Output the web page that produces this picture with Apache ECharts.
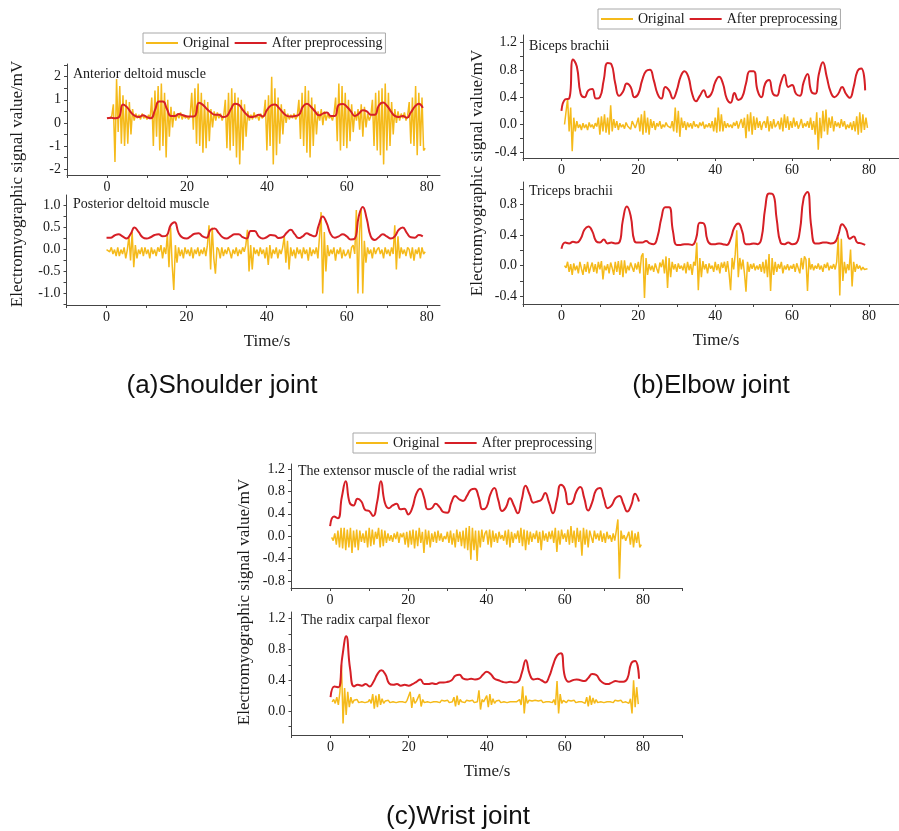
<!DOCTYPE html>
<html>
<head>
<meta charset="utf-8">
<script src="https://cdn.jsdelivr.net/npm/echarts@6.0.0/dist/echarts.min.js"></script>
<style>
  html, body { margin: 0; padding: 0; background: #fff; }
  #chart { width: 899px; height: 831px; }
</style>
</head>
<body>
<div id="chart"></div>
<script>
const RAW_STEP = 0.4
const FILT_STEP = 1

const seriesNames = ['Original', 'After preprocessing']
const muscleNames = ['Anterior deltoid muscle', 'Posterior deltoid muscle', 'Biceps brachii',
  'Triceps brachii', 'The extensor muscle of the radial wrist', 'The radix carpal flexor']
const jointNames = ['(a)Shoulder joint', '(b)Elbow joint', '(c)Wrist joint']
const xTickLabels = [0, 20, 40, 60, 80]

// ---- shoulder: anterior deltoid
const anteriorRaw = [
  0.2, 0.25, 0.2, 0.3, 0.8, -1.7, 1.9, -0.4, 1.6, -0.9,
  1.2, -1.0, 1.0, -0.9, 0.9, -0.5, 0.6, 0.1, 0.4, 0.2,
  0.35, 0.15, 0.4, 0.2, 0.3, 0.15, 0.35, 0.2, 1.1, -1.0,
  1.4, -0.6, 1.6, -1.2, 1.7, -1.0, 1.3, -1.5, 1.0, -0.6,
  0.7, -0.2, 0.5, 0.1, 0.4, 0.2, 0.45, 0.15, 0.35, 0.2,
  0.3, 0.15, 0.3, 1.3, -0.3, 1.5, -0.9, 1.7, -1.0, 1.3,
  -1.3, 1.0, -1.1, 0.9, -0.8, 0.6, -0.2, 0.5, 0.1, 0.45,
  0.2, 0.4, 0.1, 0.3, 1.0, -1.1, 1.3, -1.2, 1.5, -1.0,
  1.3, -1.5, 1.1, -1.8, 1.0, -1.2, 0.8, -0.6, 0.5, 0.1,
  0.35, 0.15, 0.45, 0.2, 0.35, 0.1, 0.4, 0.2, 0.3, 1.0,
  -1.2, 1.2, -1.0, 2.0, -1.8, 1.5, -1.4, 1.1, -0.9, 0.8,
  -0.5, 0.6, 0.0, 0.4, 0.15, 0.35, 0.2, 0.4, 0.15, 0.3,
  1.0, -0.7, 1.3, -1.0, 1.6, -1.3, 1.4, -1.5, 1.1, -1.0,
  0.8, -0.5, 0.5, 0.1, 0.6, -0.1, 0.5, 0.1, 0.4, 0.2,
  0.3, 0.1, 0.4, 1.1, -0.8, 1.7, -1.2, 1.6, -1.0, 1.3,
  -1.1, 1.0, -0.8, 0.8, -0.4, 0.5, 0.1, 0.6, -0.3, 0.8,
  -0.6, 0.7, -0.2, 0.4, 0.1, 0.3, 1.0, -1.0, 1.3, -1.2,
  1.4, -1.4, 1.5, -1.8, 1.7, -1.2, 1.3, -1.0, 0.9, -0.5,
  0.6, 0.0, 0.5, 0.1, 0.4, 0.2, 0.45, 0.1, 0.3, 0.9,
  -0.9, 1.1, -1.0, 1.6, -1.4, 1.3, -1.0, 1.1, -1.2, -1.1
]
const anteriorFilt = [
  0.2, 0.22, 0.2, 0.25, 0.8, 0.68, 0.45, 0.3, 0.25, 0.33,
  0.25, 0.2, 0.55, 0.92, 0.92, 0.6, 0.3, 0.3, 0.38, 0.33,
  0.28, 0.27, 0.3, 0.87, 0.78, 0.6, 0.45, 0.35, 0.35, 0.25,
  0.3, 0.6, 0.83, 0.78, 0.55, 0.35, 0.25, 0.28, 0.35, 0.28,
  0.55, 0.75, 0.8, 0.65, 0.45, 0.3, 0.27, 0.3, 0.35, 0.7,
  0.83, 0.7, 0.5, 0.33, 0.4, 0.45, 0.3, 0.3, 0.78, 0.82,
  0.7, 0.5, 0.3, 0.4, 0.55, 0.5, 0.35, 0.35, 0.75, 0.88,
  0.75, 0.5, 0.3, 0.25, 0.3, 0.22, 0.45, 0.7, 0.83, 0.65
]

// ---- shoulder: posterior deltoid
const posteriorRaw = [
  0.0, 0.02, -0.05, 0.05, -0.1, 0.0, -0.15, 0.05, -0.15, 0.0,
  -0.1, 0.05, -0.2, 0.0, 0.3, -0.25, 0.4, -0.4, 0.1, -0.2,
  0.0, -0.1, 0.05, -0.15, 0.05, -0.1, 0.0, -0.2, 0.05, -0.1,
  0.0, -0.15, 0.05, -0.05, 0.1, -0.2, 0.05, -0.1, 0.35, -0.4,
  0.5, -0.35, -0.92, 0.1, -0.3, 0.05, -0.15, 0.0, -0.2, 0.05,
  -0.1, 0.0, -0.15, 0.05, -0.2, 0.0, -0.1, 0.05, -0.15, 0.0,
  -0.1, 0.05, -0.15, 0.1, 0.55, -0.45, 0.5, -0.2, -0.55, 0.05,
  0.0, -0.2, 0.05, -0.15, 0.0, -0.1, 0.05, -0.05, -0.2, 0.0,
  -0.1, 0.05, -0.15, 0.0, -0.1, 0.05, -0.05, 0.1, 0.45, -0.5,
  0.1, -0.45, 0.05, -0.1, 0.0, -0.15, 0.05, -0.1, 0.0, -0.2,
  0.05, -0.35, 0.1, -0.2, 0.0, -0.1, 0.05, -0.2, 0.0, -0.1,
  0.05, 0.3, -0.3, 0.2, -0.45, 0.05, -0.15, 0.0, -0.2, 0.05,
  -0.1, 0.0, -0.2, 0.05, -0.1, 0.0, -0.25, 0.05, -0.15, 0.0,
  -0.1, 0.05, -0.2, 0.3, 0.85, -1.0, 0.4, -0.5, 0.1, -0.15,
  0.0, -0.1, 0.05, -0.25, 0.0, -0.1, 0.05, -0.2, 0.0, -0.15,
  -0.1, 0.0, -0.2, 0.05, 0.1, -0.1, 0.9, -1.0, 0.4, 0.92,
  -1.0, 0.2, -0.3, 0.05, -0.1, 0.0, -0.2, 0.05, -0.1, 0.0,
  0.05, -0.1, 0.0, -0.2, 0.05, -0.1, 0.0, -0.15, 0.05, -0.1,
  0.55, -0.45, 0.3, -0.2, 0.05, -0.1, 0.0, -0.15, 0.05, 0.0,
  -0.2, 0.05, -0.25, 0.0, -0.1, 0.05, -0.2, 0.05, -0.1, -0.05
]
const posteriorFilt = [
  0.27, 0.27, 0.32, 0.35, 0.3, 0.25, 0.35, 0.5, 0.4, 0.28,
  0.25, 0.28, 0.33, 0.35, 0.3, 0.32, 0.55, 0.62, 0.38, 0.27,
  0.25, 0.3, 0.36, 0.37, 0.3, 0.27, 0.45, 0.48, 0.38, 0.28,
  0.25, 0.3, 0.35, 0.35, 0.28, 0.25, 0.42, 0.42, 0.3, 0.25,
  0.28, 0.33, 0.32, 0.26, 0.28, 0.38, 0.45, 0.35, 0.26, 0.3,
  0.37, 0.33, 0.3, 0.55, 0.75, 0.6, 0.35, 0.27, 0.3, 0.35,
  0.3, 0.23, 0.25, 0.75, 0.97, 0.7, 0.3, 0.22, 0.28, 0.35,
  0.3, 0.25, 0.3, 0.45, 0.5, 0.38, 0.28, 0.27, 0.33, 0.3
]

// ---- elbow: biceps brachii
const bicepsRaw = [
  null, null, 0.0, 0.02, 0.38, -0.1, 0.25, -0.39, 0.1, -0.1,
  0.05, -0.05, 0.0, -0.08, 0.02, -0.05, 0.0, -0.08, 0.03, -0.04,
  0.0, -0.06, 0.02, -0.03, 0.1, -0.15, 0.12, -0.1, 0.15, -0.12,
  0.1, -0.15, 0.28, -0.1, 0.08, -0.05, 0.05, -0.08, 0.02, -0.04,
  0.0, -0.06, 0.03, -0.02, 0.0, -0.07, 0.05, 0.0, -0.05, 0.02,
  0.1, -0.1, 0.15, -0.15, 0.2, -0.12, 0.1, -0.15, 0.08, -0.05,
  0.05, -0.08, 0.02, -0.03, 0.05, -0.06, 0.0, -0.04, 0.03, -0.02,
  0.0, -0.05, 0.05, -0.1, 0.25, -0.12, 0.2, -0.18, 0.1, -0.05,
  0.05, -0.08, 0.03, -0.04, 0.02, -0.06, 0.05, -0.03, 0.0, -0.05,
  0.03, -0.02, 0.04, -0.06, 0.0, -0.04, 0.02, -0.05, 0.05, -0.1,
  0.1, -0.12, 0.25, -0.1, 0.15, -0.1, 0.05, -0.05, 0.02, -0.04,
  0.0, -0.05, 0.03, -0.02, 0.05, -0.06, 0.02, 0.08, -0.05, 0.1,
  -0.2, 0.15, -0.1, 0.18, -0.15, 0.12, -0.08, 0.1, -0.05, 0.05,
  -0.08, 0.02, 0.05, -0.05, 0.12, -0.1, 0.05, -0.06, 0.08, -0.04,
  0.0, 0.05, -0.07, 0.1, -0.1, 0.15, -0.05, 0.12, -0.08, 0.05,
  -0.05, 0.1, -0.03, 0.05, -0.06, 0.0, 0.08, -0.05, 0.02, -0.03,
  0.05, -0.05, 0.1, -0.08, 0.05, -0.15, 0.18, -0.37, 0.1, -0.2,
  0.2, -0.1, 0.22, -0.15, 0.1, -0.05, 0.12, -0.1, 0.05, -0.03,
  0.03, -0.05, 0.08, -0.03, 0.05, -0.07, 0.0, -0.05, 0.03, -0.08,
  0.05, -0.1, 0.12, -0.15, 0.18, -0.12, 0.15, -0.08, 0.1, -0.05
]
const bicepsFilt = [
  0.2, 0.37, 0.38, 0.95, 0.85, 0.45, 0.4, 0.5, 0.52, 0.38,
  0.4, 0.65, 0.9, 0.88, 0.6, 0.42, 0.48, 0.6, 0.55, 0.4,
  0.45, 0.65, 0.78, 0.8, 0.65, 0.45, 0.38, 0.55, 0.5, 0.38,
  0.5, 0.7, 0.78, 0.7, 0.45, 0.34, 0.42, 0.5, 0.4, 0.45,
  0.62, 0.7, 0.6, 0.38, 0.32, 0.46, 0.36, 0.4, 0.6, 0.78,
  0.78, 0.5, 0.4, 0.6, 0.65, 0.45, 0.42, 0.6, 0.73, 0.55,
  0.58, 0.45, 0.42, 0.62, 0.74, 0.48, 0.45, 0.75, 0.91, 0.7,
  0.48, 0.4, 0.45, 0.55, 0.45, 0.39, 0.55, 0.78, 0.82, 0.5
]

// ---- elbow: triceps brachii
const tricepsRaw = [
  null, null, 0.0, -0.03, 0.05, -0.08, 0.02, -0.12, 0.03, -0.06,
  0.0, -0.1, 0.05, -0.04, -0.12, 0.02, -0.08, 0.05, -0.1, -0.02,
  0.04, -0.08, 0.02, -0.1, 0.05, -0.05, 0.06, -0.18, 0.0, -0.06,
  0.02, -0.1, 0.04, -0.03, -0.12, 0.05, -0.08, 0.06, -0.12, 0.07,
  -0.15, 0.07, -0.1, 0.0, -0.06, 0.04, -0.02, -0.08, 0.03, -0.05,
  0.05, -0.1, 0.12, 0.16, -0.42, 0.1, -0.12, 0.02, -0.06, 0.0,
  -0.08, 0.03, -0.04, -0.1, 0.04, -0.02, 0.08, -0.1, 0.12, -0.29,
  0.1, -0.15, 0.05, -0.05, 0.02, -0.08, 0.03, -0.04, 0.0, -0.06,
  0.03, -0.1, 0.05, -0.06, 0.02, -0.12, 0.05, 0.0, 0.3, -0.32,
  0.1, -0.15, 0.06, -0.05, 0.02, -0.1, 0.03, -0.04, 0.0, -0.08,
  0.05, -0.06, 0.02, -0.1, 0.04, -0.03, 0.05, -0.08, 0.06, -0.1,
  -0.32, 0.1, -0.05, 0.15, 0.46, -0.15, 0.1, -0.05, 0.08, -0.1,
  -0.34, 0.05, -0.08, 0.02, -0.04, 0.03, -0.06, 0.0, -0.05, 0.02,
  -0.08, 0.05, -0.1, 0.08, -0.15, 0.15, -0.33, 0.1, -0.12, 0.05,
  -0.08, 0.02, -0.04, 0.05, -0.1, 0.0, -0.05, 0.02, -0.06, 0.0,
  -0.04, 0.02, -0.08, 0.03, 0.05, -0.1, 0.1, -0.05, 0.12, 0.08,
  -0.33, 0.1, -0.05, 0.02, -0.06, 0.0, -0.04, 0.03, -0.05, 0.0,
  -0.08, 0.02, -0.03, 0.04, -0.06, 0.0, -0.04, 0.02, -0.05, 0.05,
  0.37, -0.39, 0.35, -0.2, 0.05, -0.1, 0.02, -0.06, 0.21, -0.27,
  0.05, -0.08, 0.02, -0.04, 0.0, -0.06, -0.02, -0.05, -0.03, -0.04
]
const tricepsFilt = [
  0.22, 0.3, 0.29, 0.31, 0.3, 0.35, 0.47, 0.51, 0.45, 0.32,
  0.3, 0.34, 0.29, 0.3, 0.29, 0.3, 0.6, 0.77, 0.65, 0.32,
  0.3, 0.3, 0.32, 0.29, 0.28, 0.38, 0.62, 0.76, 0.76, 0.45,
  0.27, 0.27, 0.28, 0.28, 0.27, 0.35, 0.56, 0.55, 0.33, 0.28,
  0.28, 0.29, 0.28, 0.27, 0.35, 0.5, 0.55, 0.45, 0.28, 0.28,
  0.29, 0.28, 0.35, 0.75, 0.94, 0.93, 0.6, 0.3, 0.28, 0.3,
  0.28, 0.29, 0.45, 0.88, 0.96, 0.5, 0.29, 0.29, 0.3, 0.3,
  0.29, 0.3, 0.4, 0.54, 0.48, 0.35, 0.38, 0.3, 0.29, 0.27
]

// ---- wrist: extensor carpi radialis
const extensorRaw = [
  null, -0.02, -0.08, 0.05, -0.15, 0.1, -0.2, 0.15, -0.22, 0.15,
  -0.25, 0.12, -0.2, 0.15, -0.3, 0.1, -0.2, 0.12, -0.25, 0.1,
  -0.1, 0.05, -0.12, 0.1, -0.2, 0.15, -0.18, 0.12, -0.15, 0.08,
  -0.05, 0.15, -0.2, 0.12, -0.18, 0.1, -0.12, 0.05, -0.08, 0.02,
  -0.1, 0.05, -0.05, 0.08, -0.12, 0.05, -0.02, 0.06, -0.15, 0.08,
  -0.2, 0.1, -0.15, 0.12, -0.22, 0.1, -0.18, 0.15, -0.12, 0.08,
  -0.3, 0.12, -0.15, 0.1, -0.2, 0.05, -0.1, 0.08, -0.12, 0.1,
  -0.08, 0.05, -0.1, 0.0, -0.05, 0.08, -0.12, 0.1, -0.15, 0.05,
  -0.2, 0.12, -0.1, 0.08, -0.18, 0.1, -0.22, 0.15, -0.25, 0.18,
  -0.42, 0.15, -0.25, 0.1, -0.44, 0.1, -0.2, 0.12, -0.1, 0.05,
  0.1, -0.15, 0.12, -0.2, 0.1, -0.1, 0.05, -0.12, 0.08, -0.05,
  0.02, -0.08, 0.1, -0.15, 0.12, -0.2, 0.08, -0.12, 0.05, -0.05,
  0.1, -0.12, 0.15, -0.18, 0.12, -0.25, 0.1, -0.15, 0.08, -0.1,
  0.05, -0.05, 0.1, -0.12, 0.08, -0.25, 0.1, -0.08, 0.05, -0.1,
  0.08, -0.05, 0.1, -0.12, 0.15, -0.28, 0.1, -0.15, 0.12, -0.05,
  0.05, -0.1, 0.12, -0.15, 0.18, -0.12, 0.1, -0.2, 0.15, -0.1,
  0.1, -0.35, 0.15, -0.15, 0.12, -0.2, 0.1, 0.08, -0.12, 0.1,
  -0.05, 0.05, -0.08, 0.1, -0.1, 0.05, -0.12, 0.08, -0.05, 0.02,
  -0.1, 0.05, -0.08, 0.1, 0.3, -0.76, 0.1, -0.05, 0.02, -0.08,
  -0.1, 0.08, -0.15, 0.1, -0.2, 0.05, -0.12, 0.08, -0.2, -0.15
]
const extensorFilt = [
  0.18, 0.35, 0.32, 0.7, 0.98, 0.6, 0.55, 0.67, 0.62, 0.47,
  0.45, 0.36, 0.6, 0.98, 0.6, 0.5, 0.55, 0.58, 0.48, 0.49,
  0.39, 0.5, 0.75, 0.85, 0.7, 0.48, 0.5, 0.58, 0.52, 0.43,
  0.42, 0.6, 0.72, 0.66, 0.63, 0.72, 0.83, 0.85, 0.7, 0.48,
  0.52, 0.75, 0.86, 0.65, 0.45, 0.52, 0.68, 0.55, 0.41, 0.65,
  0.9, 0.75, 0.6, 0.62, 0.65, 0.77, 0.6, 0.41, 0.65, 0.92,
  0.85, 0.57, 0.6, 0.8, 0.88, 0.68, 0.46, 0.6, 0.82, 0.86,
  0.68, 0.5, 0.55, 0.68, 0.72, 0.58, 0.44, 0.55, 0.76, 0.62
]

// ---- wrist: radial carpal flexor
const flexorRaw = [
  null, 0.12, 0.15, 0.1, 0.18, 0.08, 0.25, 0.6, -0.16, 0.3,
  -0.05, 0.25, 0.05, 0.18, 0.1, 0.14, 0.12, 0.15, 0.11, 0.13,
  0.12, 0.14, 0.11, 0.13, 0.12, 0.15, 0.1, 0.22, 0.03, 0.2,
  0.05, 0.22, 0.08, 0.16, 0.1, 0.13, 0.12, 0.14, 0.11, 0.13,
  0.12, 0.14, 0.11, 0.13, 0.12, 0.14, 0.12, 0.13, 0.11, 0.14,
  0.12, 0.25, 0.04, 0.18, 0.1, 0.13, 0.12, 0.22, 0.06, 0.15,
  0.11, 0.13, 0.12, 0.14, 0.11, 0.13, 0.12, 0.14, 0.12, 0.13,
  0.11, 0.14, 0.12, 0.13, 0.12, 0.14, 0.11, 0.13, 0.12, 0.18,
  0.06, 0.2, 0.08, 0.15, 0.12, 0.13, 0.11, 0.14, 0.12, 0.13,
  0.12, 0.14, 0.11, 0.13, 0.12, 0.27, 0.02, 0.15, 0.12, 0.13,
  0.2, 0.05, 0.22, 0.08, 0.16, 0.1, 0.13, 0.12, 0.14, 0.11,
  0.13, 0.12, 0.14, 0.11, 0.13, 0.12, 0.14, 0.12, 0.13, 0.12,
  0.1, 0.15, 0.08, 0.32, -0.03, 0.2, 0.1, 0.14, 0.12, 0.13,
  0.11, 0.14, 0.12, 0.13, 0.12, 0.14, 0.11, 0.13, 0.12, 0.14,
  0.12, 0.13, 0.11, 0.15, 0.08, 0.39, -0.03, 0.22, 0.1, 0.14,
  0.13, 0.11, 0.14, 0.12, 0.13, 0.12, 0.14, 0.11, 0.13, 0.12,
  0.14, 0.12, 0.13, 0.1, 0.18, 0.06, 0.2, 0.08, 0.17, 0.1,
  0.15, 0.11, 0.13, 0.12, 0.14, 0.11, 0.13, 0.12, 0.14, 0.12,
  0.13, 0.11, 0.14, 0.12, 0.13, 0.12, 0.14, 0.11, 0.13, 0.12,
  0.14, 0.1, 0.16, -0.03, 0.4, 0.05, 0.31, 0.09, null, null
]
const flexorFilt = [
  0.18, 0.32, 0.31, 0.7, 0.97, 0.55, 0.32, 0.34, 0.33, 0.35,
  0.32, 0.38, 0.48, 0.53, 0.48, 0.36, 0.34, 0.35, 0.33, 0.34,
  0.33, 0.35, 0.38, 0.41, 0.35, 0.35, 0.36, 0.35, 0.37, 0.37,
  0.38, 0.4, 0.46, 0.47, 0.42, 0.41, 0.42, 0.41, 0.42, 0.47,
  0.51, 0.48, 0.42, 0.4, 0.38, 0.37, 0.38, 0.37, 0.38, 0.5,
  0.66, 0.48, 0.41, 0.42, 0.4, 0.37, 0.45, 0.6, 0.72, 0.75,
  0.45, 0.38, 0.4, 0.41, 0.4, 0.39, 0.43, 0.48, 0.47, 0.4,
  0.36, 0.35, 0.37, 0.39, 0.38, 0.38, 0.42, 0.62, 0.65, 0.42
]

// y tick labels / tick marks per panel
const yLabelsA1 = [-2, -1, 0, 1, 2]
const yTicksA1 = [-2, -1.5, -1, -0.5, 0, 0.5, 1, 1.5, 2, 2.5]
const yLabelsA2 = [-1, -0.5, 0, 0.5, 1]
const yTicksA2 = [-1.25, -1, -0.75, -0.5, -0.25, 0, 0.25, 0.5, 0.75, 1]
const yLabelsB1 = [-0.4, 0, 0.4, 0.8, 1.2]
const yTicksB1 = [-0.4, -0.2, 0, 0.2, 0.4, 0.6, 0.8, 1.0, 1.2]
const yLabelsB2 = [-0.4, 0, 0.4, 0.8]
const yTicksB2 = [-0.4, -0.2, 0, 0.2, 0.4, 0.6, 0.8, 1.0]
const yLabelsC1 = [-0.8, -0.4, 0, 0.4, 0.8, 1.2]
const yTicksC1 = [-0.8, -0.6, -0.4, -0.2, 0, 0.2, 0.4, 0.6, 0.8, 1.0, 1.2]
const yLabelsC2 = [0, 0.4, 0.8, 1.2]
const yTicksC2 = [-0.2, 0, 0.2, 0.4, 0.6, 0.8, 1.0, 1.2]

const SERIF = 'Liberation Serif'
const SANS = 'Liberation Sans'
const YELLOW = '#F5BA1A'
const RED = '#D61F26'
const INK = '#1a1a1a'

const panels = [
  { raw: anteriorRaw, filt: anteriorFilt, yLabels: yLabelsA1, yTicks: yTicksA1, digits: 0,
    grid: { left: 67, top: 64, width: 373, height: 111 }, xMax: 83.3, yMin: -2.26, yMax: 2.55, tx: 73, ty: 74 },
  { raw: posteriorRaw, filt: posteriorFilt, yLabels: yLabelsA2, yTicks: yTicksA2, digits: 1,
    grid: { left: 66.5, top: 195, width: 373.5, height: 110 }, xMax: 83.3, yMin: -1.26, yMax: 1.24, tx: 73, ty: 204 },
  { raw: bicepsRaw, filt: bicepsFilt, yLabels: yLabelsB1, yTicks: yTicksB1, digits: 1,
    grid: { left: 523, top: 35, width: 376, height: 123 }, xMax: 87.8, yMin: -0.49, yMax: 1.31, tx: 529, ty: 46 },
  { raw: tricepsRaw, filt: tricepsFilt, yLabels: yLabelsB2, yTicks: yTicksB2, digits: 1,
    grid: { left: 523, top: 182, width: 376, height: 122 }, xMax: 87.8, yMin: -0.5, yMax: 1.09, tx: 529, ty: 191 },
  { raw: extensorRaw, filt: extensorFilt, yLabels: yLabelsC1, yTicks: yTicksC1, digits: 1,
    grid: { left: 291, top: 464, width: 391, height: 124 }, xMax: 90, yMin: -0.925, yMax: 1.29, tx: 298, ty: 471 },
  { raw: flexorRaw, filt: flexorFilt, yLabels: yLabelsC2, yTicks: yTicksC2, digits: 1,
    grid: { left: 291.5, top: 612, width: 390.5, height: 123 }, xMax: 90, yMin: -0.31, yMax: 1.285, tx: 301, ty: 620 }
]

const legendPos = [
  { left: 143, top: 33 },
  { left: 598, top: 9 },
  { left: 353, top: 433 }
]
const yNamePos = [[18, 184], [478, 173], [245, 602]]
const xNamePos = [[267, 342], [716, 341], [487, 772]]
const jointPos = [[222, 386], [711, 386], [458, 817]]

function toPairs (arr, step) {
  const out = []
  arr.forEach((v, i) => {
    if (v !== null) out.push([Math.round(i * step * 10) / 10, v])
  })
  return out
}

const axisLine = { show: true, onZero: false, lineStyle: { color: '#444', width: 1 } }

const option = {
  animation: false,
  backgroundColor: '#fff',
  textStyle: { fontFamily: SERIF },
  grid: panels.map(p => Object.assign({ outerBoundsMode: 'none', containLabel: false }, p.grid)),
  xAxis: panels.map((p, i) => ({
    type: 'value',
    gridIndex: i,
    position: 'bottom',
    min: -10,
    max: p.xMax,
    splitLine: { show: false },
    axisLine: axisLine,
    axisTick: { show: true, length: 3, lineStyle: { color: '#444' },
      customValues: [-10, 0, 10, 20, 30, 40, 50, 60, 70, 80, 90].filter(v => v <= p.xMax) },
    axisLabel: { customValues: xTickLabels, margin: 5, fontSize: 14, color: INK, fontFamily: SERIF }
  })),
  yAxis: panels.map((p, i) => ({
    type: 'value',
    gridIndex: i,
    position: 'left',
    min: p.yMin,
    max: p.yMax,
    splitLine: { show: false },
    axisLine: axisLine,
    axisTick: { show: true, length: 3, lineStyle: { color: '#444' }, customValues: p.yTicks },
    axisLabel: { customValues: p.yLabels, margin: 6, fontSize: 14, color: INK, fontFamily: SERIF,
      formatter: v => Number(v).toFixed(p.digits) }
  })),
  legend: legendPos.map(l => ({
    left: l.left,
    top: l.top,
    data: seriesNames,
    icon: 'rect',
    itemWidth: 32,
    itemHeight: 2,
    itemGap: 5,
    padding: [3, 3],
    borderColor: '#a8a8a8',
    borderWidth: 1,
    textStyle: { fontFamily: SERIF, fontSize: 14, color: INK }
  })),
  series: [],
  graphic: []
}

panels.forEach((p, i) => {
  option.series.push({
    name: seriesNames[0], type: 'line', xAxisIndex: i, yAxisIndex: i,
    data: toPairs(p.raw, RAW_STEP), showSymbol: false, symbol: 'none',
    lineStyle: { color: YELLOW, width: 1.5 }, itemStyle: { color: YELLOW }
  })
  option.series.push({
    name: seriesNames[1], type: 'line', xAxisIndex: i, yAxisIndex: i,
    data: toPairs(p.filt, FILT_STEP), showSymbol: false, symbol: 'none', smooth: 0.5,
    lineStyle: { color: RED, width: 2 }, itemStyle: { color: RED }
  })
  option.graphic.push({
    type: 'text', x: p.tx, y: p.ty,
    style: { text: muscleNames[i], fontFamily: SERIF, fontSize: 14, fill: INK, textAlign: 'left', textVerticalAlign: 'middle' }
  })
})

for (let k = 0; k < 3; k++) {
  option.graphic.push({
    type: 'text', x: yNamePos[k][0], y: yNamePos[k][1], rotation: Math.PI / 2,
    style: { text: 'Electromyographic signal value/mV', fontFamily: SERIF, fontSize: 17, fill: INK,
      textAlign: 'center', textVerticalAlign: 'middle' }
  })
  option.graphic.push({
    type: 'text', x: xNamePos[k][0], y: xNamePos[k][1],
    style: { text: 'Time/s', fontFamily: SERIF, fontSize: 17, fill: INK, textAlign: 'center', textVerticalAlign: 'middle' }
  })
  option.graphic.push({
    type: 'text', x: jointPos[k][0], y: jointPos[k][1],
    style: { text: jointNames[k], fontFamily: SANS, fontSize: 26, fill: '#111', textAlign: 'center', textVerticalAlign: 'middle' }
  })
}

const chart = echarts.init(document.getElementById('chart'))
chart.setOption(option)
</script>
</body>
</html>
